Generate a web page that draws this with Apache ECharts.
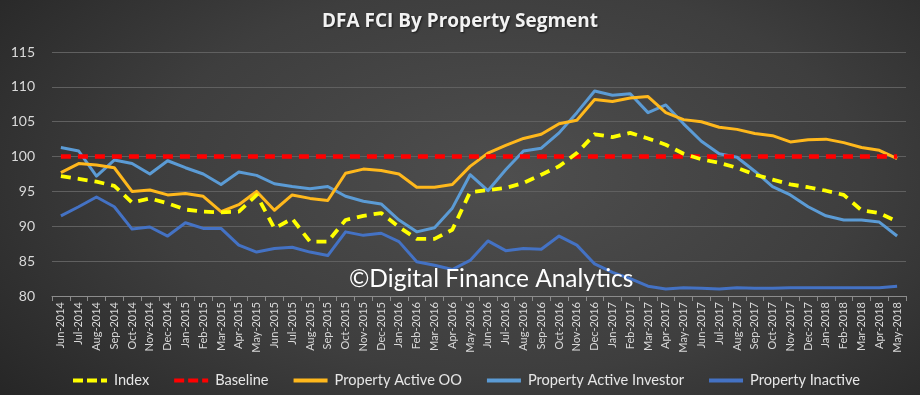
<!DOCTYPE html>
<html>
<head>
<meta charset="utf-8">
<script src="https://cdn.jsdelivr.net/npm/echarts@6/dist/echarts.min.js"></script>
<style>
html,body{margin:0;padding:0;}
body{width:920px;height:395px;background:radial-gradient(ellipse 70% 90% at 55% 45%, #4e4e4e 0%, #3e3e3e 55%, #262626 100%);}
#c{width:920px;height:395px;}
</style>
</head>
<body>
<div id="c"></div>
<script>
const categories = ["Jun-2014","Jul-2014","Aug-2014","Sep-2014","Oct-2014","Nov-2014","Dec-2014","Jan-2015","Feb-2015","Mar-2015","Apr-2015","May-2015","Jun-2015","Jul-2015","Aug-2015","Sep-2015","Oct-2015","Nov-2015","Dec-2015","Jan-2016","Feb-2016","Mar-2016","Apr-2016","May-2016","Jun-2016","Jul-2016","Aug-2016","Sep-2016","Oct-2016","Nov-2016","Dec-2016","Jan-2017","Feb-2017","Mar-2017","Apr-2017","May-2017","Jun-2017","Jul-2017","Aug-2017","Sep-2017","Oct-2017","Nov-2017","Dec-2017","Jan-2018","Feb-2018","Mar-2018","Apr-2018","May-2018"];
const indexValues = [97.2,96.8,96.4,95.8,93.4,94.0,93.3,92.4,92.1,92.0,92.1,94.5,89.7,91.1,87.8,87.8,90.9,91.5,91.9,89.9,88.2,88.2,89.5,94.9,95.2,95.5,96.2,97.4,98.6,100.5,103.2,102.8,103.4,102.6,101.7,100.4,99.6,99.1,98.4,97.4,96.7,96.0,95.6,95.1,94.5,92.3,91.9,90.7];
const baselineValues = categories.map(() => 100);
const activeOO = [97.7,99.0,98.8,98.4,95.0,95.2,94.5,94.7,94.3,92.1,93.1,95.0,92.3,94.5,94.0,93.7,97.6,98.2,98.0,97.5,95.6,95.6,96.0,98.6,100.5,101.6,102.6,103.2,104.7,105.2,108.2,107.9,108.4,108.6,106.3,105.3,105.0,104.2,103.9,103.3,103.0,102.1,102.4,102.5,102.0,101.3,100.9,99.7];
const activeInvestor = [101.3,100.8,97.2,99.5,99.0,97.5,99.4,98.4,97.5,96.0,97.8,97.3,96.1,95.7,95.4,95.7,94.3,93.6,93.2,90.9,89.2,89.8,92.6,97.4,95.1,98.1,100.8,101.2,103.4,106.3,109.4,108.8,109.0,106.3,107.4,104.7,102.2,100.4,99.9,97.9,95.7,94.5,92.8,91.5,90.9,90.9,90.6,88.6];
const inactive = [91.5,92.8,94.2,92.8,89.6,89.9,88.6,90.5,89.7,89.7,87.3,86.3,86.8,87.0,86.3,85.8,89.2,88.7,89.0,87.8,84.9,84.4,83.8,85.1,87.9,86.5,86.8,86.7,88.6,87.3,84.6,83.4,82.5,81.4,81.0,81.2,81.1,81.0,81.2,81.1,81.1,81.2,81.2,81.2,81.2,81.2,81.2,81.4];
const yTicks = [80,85,90,95,100,105,110,115];

const chart = echarts.init(document.getElementById('c'), null, {renderer:'canvas'});
const font = 'Lato, "Open Sans", sans-serif';
function lineSeries(name, data, color, dashed, z, width){
  return {name, type:'line', data, symbol:'none', z:z,
    lineStyle:{color, width: width, type: dashed ? [10,7] : 'solid', cap: 'butt', join:'round'},
    itemStyle:{color}, emphasis:{disabled:true}, animation:false};
}
const dashIcon = 'path://M0,0h10v4h-10z M14,0h10v4h-10z M28,0h6v4h-6z';
const solidIcon = 'path://M0,0h34v4h-34z';
chart.setOption({
  backgroundColor:'transparent',
  animation:false,
  title:{text:'DFA FCI By Property Segment', left:'center', top:7,
    textStyle:{color:'#f2f2f2', fontSize:19, fontWeight:'bold', fontFamily:'"Open Sans", Lato, sans-serif',
      textShadowColor:'rgba(0,0,0,0.6)', textShadowBlur:2, textShadowOffsetX:1, textShadowOffsetY:1}},
  grid:{left:52, right:14, top:52, bottom:99, containLabel:false},
  xAxis:{type:'category', data:categories, boundaryGap:true,
    axisLine:{lineStyle:{color:'#8c8c8c', width:1}},
    axisTick:{show:true, alignWithLabel:false, length:5, lineStyle:{color:'#8c8c8c'}},
    axisLabel:{rotate:90, interval:0, color:'#d9d9d9', fontSize:11, fontFamily:font, margin:6},
    splitLine:{show:false}},
  yAxis:{type:'value', min:80, max:115, interval:5,
    axisLine:{show:false}, axisTick:{show:false},
    axisLabel:{color:'#d9d9d9', fontSize:14, fontFamily:font, margin:17},
    splitLine:{lineStyle:{color:'#606060', width:1}}},
  legend:{left:68, top:368, itemWidth:38, itemHeight:4, itemGap:25,
    textStyle:{color:'#e6e6e6', fontSize:14.6, fontFamily:font},
    data:[{name:'Index', icon:dashIcon},{name:'Baseline', icon:dashIcon},
      {name:'Property Active OO', icon:solidIcon},{name:'Property Active Investor', icon:solidIcon},
      {name:'Property Inactive', icon:solidIcon}]},
  graphic:[{type:'text', left:349, top:267, z:100,
    style:{text:'\u00A9Digital Finance Analytics', fill:'#ffffff', fontSize:24.5, fontFamily:font}}],
  series:[
    lineSeries('Index', indexValues, '#FFFF00', true, 5, 3.8),
    lineSeries('Baseline', baselineValues, '#FF0000', true, 4, 4.5),
    lineSeries('Property Active OO', activeOO, '#FFB81C', false, 3, 3),
    lineSeries('Property Active Investor', activeInvestor, '#5B9BD5', false, 2, 3),
    lineSeries('Property Inactive', inactive, '#4472C4', false, 1, 3)
  ]
});
</script>
</body>
</html>
